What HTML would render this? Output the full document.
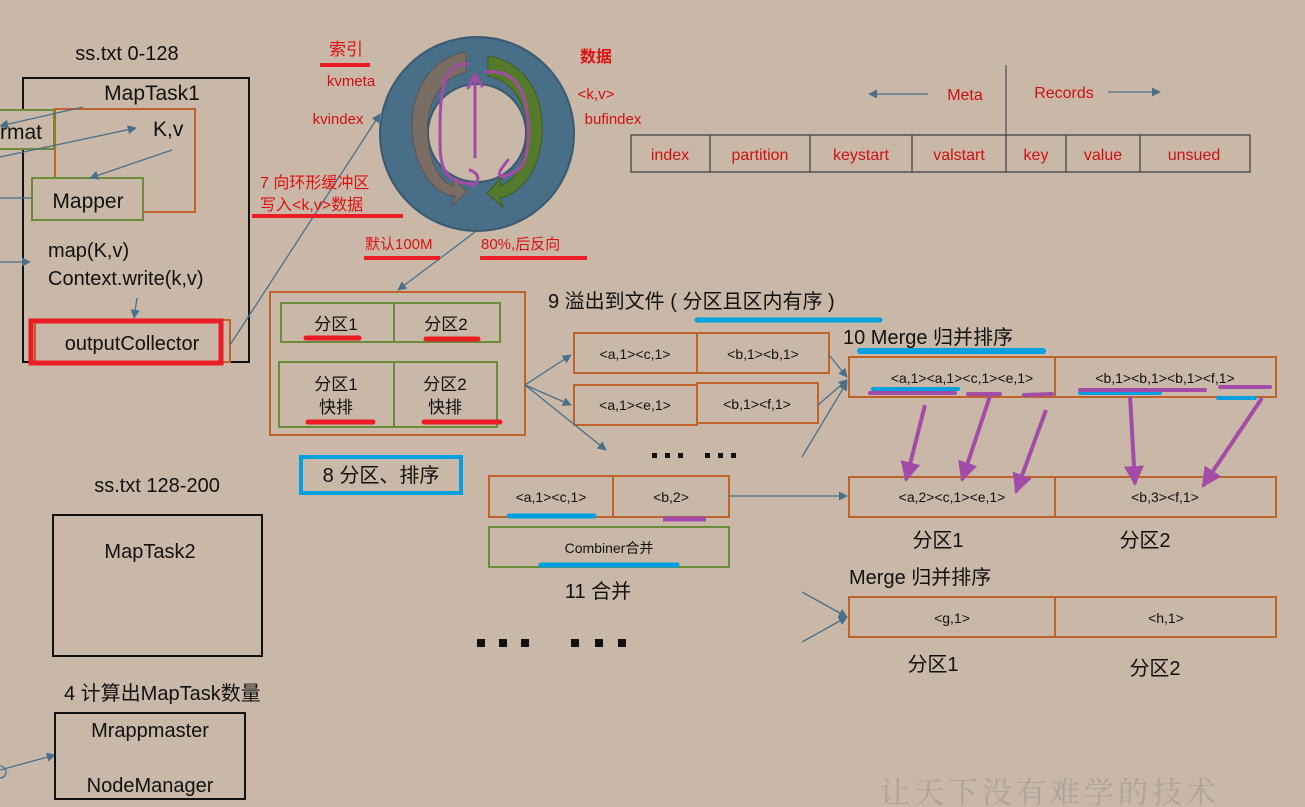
<!DOCTYPE html>
<html><head><meta charset="utf-8"><style>
html,body{margin:0;padding:0;background:#c9b8a7;}
svg{display:block;font-family:"Liberation Sans","Noto Sans CJK SC",sans-serif;}
</style></head><body>
<svg width="1305" height="807" viewBox="0 0 1305 807" xmlns="http://www.w3.org/2000/svg">
<defs>
<marker id="a" viewBox="0 0 10 10" refX="9" refY="5" markerWidth="7" markerHeight="7" orient="auto"><path d="M0,0L10,5L0,10z" fill="#4a6f8a"/></marker>
<marker id="p" viewBox="0 0 10 10" refX="9" refY="5" markerWidth="5" markerHeight="5" orient="auto"><path d="M0,0L10,5L0,10z" fill="#a24ca8"/></marker>
</defs>
<rect width="1305" height="807" fill="#c9b8a7"/>

<!-- MapTask1 -->
<text x="127" y="60" font-size="20" text-anchor="middle" fill="#111">ss.txt 0-128</text>
<rect x="23" y="78" width="226" height="284" fill="none" stroke="#111" stroke-width="2"/>
<text x="152" y="100" font-size="21" text-anchor="middle" fill="#111">MapTask1</text>
<rect x="55" y="109" width="140" height="103" fill="none" stroke="#c0622a" stroke-width="2"/>
<rect x="-10" y="110" width="64" height="39" fill="#c9b8a7" stroke="#6a8b3a" stroke-width="2"/>
<text x="0" y="139" font-size="21" fill="#111">rmat</text>
<text x="153" y="136" font-size="21" fill="#111">K,v</text>
<rect x="32" y="178" width="111" height="42" fill="#c9b8a7" stroke="#6a8b3a" stroke-width="2"/>
<text x="88" y="208" font-size="21" text-anchor="middle" fill="#111">Mapper</text>
<text x="48" y="257" font-size="20" fill="#111">map(K,v)</text>
<text x="48" y="285" font-size="20" fill="#111">Context.write(k,v)</text>
<rect x="35" y="320" width="195" height="42" fill="none" stroke="#c0622a" stroke-width="2"/>
<rect x="31" y="321" width="190" height="42" fill="none" stroke="#ec1c24" stroke-width="5"/>
<text x="132" y="350" font-size="20" text-anchor="middle" fill="#111">outputCollector</text>
<g stroke="#4a6f8a" stroke-width="1.3" fill="none" marker-end="url(#a)">
<line x1="83" y1="107" x2="0" y2="126"/>
<line x1="0" y1="157" x2="136" y2="128"/>
<line x1="172" y1="150" x2="90" y2="178"/>
<line x1="0" y1="262" x2="30" y2="262"/>
<line x1="137" y1="298" x2="134" y2="318"/>
<line x1="230" y1="345" x2="380" y2="114"/>
<line x1="475" y1="232" x2="398" y2="290"/>
<line x1="0" y1="770" x2="55" y2="755"/>
</g>
<line x1="0" y1="198" x2="32" y2="198" stroke="#4a6f8a" stroke-width="1.3"/>
<circle cx="0" cy="772" r="6" fill="none" stroke="#4a6f8a" stroke-width="1.3"/>

<!-- Ring buffer -->
<circle cx="477" cy="134" r="97" fill="#486e88" stroke="#3a5a72" stroke-width="2"/>
<circle cx="477" cy="133" r="49" fill="#c9b8a7" stroke="#3a5a72" stroke-width="2"/>
<path d="M466,52 C420,60 405,110 415,150 C422,180 440,195 455,196 L452,205 L467,192 L452,177 L454,186 C438,182 430,160 428,140 C424,105 440,78 466,72 Z" fill="#7a6e64" stroke="#5e544c"/>
<path d="M488,56 C535,64 548,110 540,150 C533,180 515,195 500,198 L503,207 L487,193 L502,177 L500,186 C515,182 525,160 526,140 C530,105 512,80 488,76 Z" fill="#557a2c" stroke="#3e5e20"/>
<g stroke="#a24ca8" stroke-width="3" fill="none" stroke-linecap="round">
<path d="M468,64 C440,62 440,100 440,140 C440,170 445,183 475,184"/>
<path d="M486,72 C520,68 530,100 528,140 C526,170 515,175 500,176 M508,160 C500,170 495,176 505,177"/>
<path d="M475,157 L475,78 M468,88 L475,75 L482,86"/>
<path d="M470,170 C482,175 478,182 473,186"/>
</g>
<text x="346" y="55" font-size="17" text-anchor="middle" fill="#e01010">索引</text>
<line x1="320" y1="65" x2="370" y2="65" stroke="#ec1c24" stroke-width="4"/>
<text x="351" y="86" font-size="15" text-anchor="middle" fill="#d01010">kvmeta</text>
<text x="338" y="124" font-size="15" text-anchor="middle" fill="#d01010">kvindex</text>
<text x="596" y="62" font-size="16" font-weight="bold" text-anchor="middle" fill="#e01010">数据</text>
<text x="596" y="99" font-size="15" text-anchor="middle" fill="#d01010">&lt;k,v&gt;</text>
<text x="613" y="124" font-size="15" text-anchor="middle" fill="#d01010">bufindex</text>
<text x="260" y="188" font-size="16" fill="#e01010">7 向环形缓冲区</text>
<text x="260" y="210" font-size="16" fill="#e01010">写入&lt;k,v&gt;数据</text>
<line x1="252" y1="216" x2="403" y2="216" stroke="#ec1c24" stroke-width="4"/>
<text x="365" y="249" font-size="15" fill="#e01010">默认100M</text>
<line x1="364" y1="258" x2="440" y2="258" stroke="#ec1c24" stroke-width="4"/>
<text x="481" y="249" font-size="15" fill="#e01010">80%,后反向</text>
<line x1="480" y1="258" x2="587" y2="258" stroke="#ec1c24" stroke-width="4"/>

<!-- table -->
<line x1="1006" y1="65" x2="1006" y2="135" stroke="#555" stroke-width="1.3"/>
<text x="965" y="100" font-size="16" text-anchor="middle" fill="#d01010">Meta</text>
<text x="1064" y="98" font-size="16" text-anchor="middle" fill="#d01010">Records</text>
<g stroke="#4a6f8a" stroke-width="1.3" marker-end="url(#a)">
<line x1="928" y1="94" x2="869" y2="94"/><line x1="1108" y1="92" x2="1160" y2="92"/>
</g>
<g fill="none" stroke="#444" stroke-width="1.3">
<rect x="631" y="135" width="619" height="37"/>
<line x1="710" y1="135" x2="710" y2="172"/><line x1="810" y1="135" x2="810" y2="172"/>
<line x1="912" y1="135" x2="912" y2="172"/><line x1="1006" y1="135" x2="1006" y2="172"/>
<line x1="1066" y1="135" x2="1066" y2="172"/><line x1="1140" y1="135" x2="1140" y2="172"/>
</g>
<g font-size="16" fill="#d01010" text-anchor="middle">
<text x="670" y="160">index</text><text x="760" y="160">partition</text><text x="861" y="160">keystart</text>
<text x="959" y="160">valstart</text><text x="1036" y="160">key</text><text x="1103" y="160">value</text><text x="1194" y="160">unsued</text>
</g>

<!-- partitions -->
<rect x="270" y="292" width="255" height="143" fill="none" stroke="#c0622a" stroke-width="2"/>
<g fill="none" stroke="#6a8b3a" stroke-width="2">
<rect x="281" y="303" width="113" height="39"/><rect x="394" y="303" width="106" height="39"/>
<rect x="279" y="362" width="115" height="65"/><rect x="394" y="362" width="103" height="65"/>
</g>
<g font-size="17" fill="#111" text-anchor="middle">
<text x="336" y="330">分区1</text><text x="446" y="330">分区2</text>
<text x="336" y="390">分区1</text><text x="445" y="390">分区2</text>
<text x="336" y="413">快排</text><text x="445" y="413">快排</text>
</g>
<g stroke="#ec1c24" stroke-width="5" stroke-linecap="round">
<line x1="306" y1="338" x2="359" y2="338"/><line x1="426" y1="339" x2="478" y2="339"/>
<line x1="308" y1="422" x2="373" y2="422"/><line x1="424" y1="422" x2="500" y2="422"/>
</g>
<rect x="301" y="457" width="160" height="36" fill="none" stroke="#00a0e0" stroke-width="4"/>
<text x="381" y="482" font-size="20" text-anchor="middle" fill="#111">8 分区、排序</text>

<!-- spill -->
<text x="548" y="308" font-size="20" fill="#111">9 溢出到文件 ( 分区且区内有序 )</text>
<line x1="697" y1="320" x2="880" y2="320" stroke="#00a0e0" stroke-width="5" stroke-linecap="round"/>
<g fill="none" stroke="#c0622a" stroke-width="2">
<rect x="574" y="333" width="123" height="40"/><rect x="697" y="333" width="132" height="40"/>
<rect x="574" y="385" width="123" height="40"/><rect x="697" y="383" width="121" height="40"/>
<rect x="489" y="476" width="124" height="41"/><rect x="613" y="476" width="116" height="41"/>
<rect x="849" y="357" width="206" height="40"/><rect x="1055" y="357" width="221" height="40"/>
<rect x="849" y="477" width="206" height="40"/><rect x="1055" y="477" width="221" height="40"/>
<rect x="849" y="597" width="206" height="40"/><rect x="1055" y="597" width="221" height="40"/>
</g>
<rect x="489" y="527" width="240" height="40" fill="none" stroke="#6a8b3a" stroke-width="2"/>
<g font-size="14" fill="#111" text-anchor="middle">
<text x="635" y="359">&lt;a,1&gt;&lt;c,1&gt;</text><text x="763" y="359">&lt;b,1&gt;&lt;b,1&gt;</text>
<text x="635" y="410">&lt;a,1&gt;&lt;e,1&gt;</text><text x="757" y="409">&lt;b,1&gt;&lt;f,1&gt;</text>
<text x="551" y="502">&lt;a,1&gt;&lt;c,1&gt;</text><text x="671" y="502">&lt;b,2&gt;</text>
<text x="609" y="553">Combiner合并</text>
<text x="962" y="383">&lt;a,1&gt;&lt;a,1&gt;&lt;c,1&gt;&lt;e,1&gt;</text><text x="1165" y="383">&lt;b,1&gt;&lt;b,1&gt;&lt;b,1&gt;&lt;f,1&gt;</text>
<text x="952" y="502">&lt;a,2&gt;&lt;c,1&gt;&lt;e,1&gt;</text><text x="1165" y="502">&lt;b,3&gt;&lt;f,1&gt;</text>
<text x="952" y="623">&lt;g,1&gt;</text><text x="1166" y="623">&lt;h,1&gt;</text>
</g>
<g fill="#111">
<rect x="652" y="453" width="5" height="5"/><rect x="665" y="453" width="5" height="5"/><rect x="678" y="453" width="5" height="5"/>
<rect x="705" y="453" width="5" height="5"/><rect x="718" y="453" width="5" height="5"/><rect x="731" y="453" width="5" height="5"/>
<rect x="477" y="639" width="8" height="8"/><rect x="499" y="639" width="8" height="8"/><rect x="521" y="639" width="8" height="8"/>
<rect x="571" y="639" width="8" height="8"/><rect x="595" y="639" width="8" height="8"/><rect x="618" y="639" width="8" height="8"/>
</g>
<text x="598" y="598" font-size="20" text-anchor="middle" fill="#111">11 合并</text>
<line x1="509" y1="516" x2="594" y2="516" stroke="#00a0e0" stroke-width="5" stroke-linecap="round"/>
<line x1="663" y1="519" x2="706" y2="519" stroke="#a24ca8" stroke-width="5"/>
<line x1="541" y1="565" x2="677" y2="565" stroke="#00a0e0" stroke-width="5" stroke-linecap="round"/>

<g stroke="#4a6f8a" stroke-width="1.3" fill="none" marker-end="url(#a)">
<line x1="525" y1="385" x2="571" y2="355"/>
<line x1="525" y1="385" x2="571" y2="405"/>
<line x1="525" y1="385" x2="606" y2="450"/>
<line x1="829" y1="355" x2="847" y2="377"/>
<line x1="818" y1="405" x2="847" y2="380"/>
<line x1="802" y1="457" x2="847" y2="382"/>
<line x1="729" y1="496" x2="847" y2="496"/>
<line x1="802" y1="592" x2="847" y2="617"/>
<line x1="802" y1="642" x2="847" y2="617"/>
</g>
<text x="843" y="344" font-size="20" fill="#111">10 Merge 归并排序</text>
<line x1="860" y1="351" x2="1043" y2="351" stroke="#00a0e0" stroke-width="6" stroke-linecap="round"/>
<g stroke-width="4" stroke-linecap="round">
<line x1="873" y1="389" x2="958" y2="389" stroke="#00a0e0"/>
<line x1="870" y1="393" x2="955" y2="393" stroke="#a24ca8"/>
<line x1="968" y1="394" x2="1000" y2="394" stroke="#a24ca8"/>
<line x1="1024" y1="395" x2="1052" y2="394" stroke="#a24ca8"/>
<line x1="1080" y1="393" x2="1160" y2="393" stroke="#00a0e0"/>
<line x1="1080" y1="390" x2="1205" y2="390" stroke="#a24ca8"/>
<line x1="1220" y1="387" x2="1270" y2="387" stroke="#a24ca8"/>
<line x1="1218" y1="398" x2="1255" y2="398" stroke="#00a0e0"/>
</g>
<g stroke="#a24ca8" stroke-width="4" marker-end="url(#p)">
<line x1="925" y1="405" x2="906" y2="480"/>
<line x1="990" y1="396" x2="962" y2="480"/>
<line x1="1046" y1="410" x2="1016" y2="492"/>
<line x1="1130" y1="396" x2="1135" y2="484"/>
<line x1="1262" y1="398" x2="1203" y2="486"/>
</g>
<g font-size="20" fill="#111" text-anchor="middle">
<text x="938" y="547">分区1</text><text x="1145" y="547">分区2</text>
<text x="933" y="671">分区1</text><text x="1155" y="675">分区2</text>
</g>
<text x="849" y="584" font-size="20" fill="#111">Merge 归并排序</text>

<!-- MapTask2 -->
<text x="157" y="492" font-size="20" text-anchor="middle" fill="#111">ss.txt 128-200</text>
<rect x="53" y="515" width="209" height="141" fill="none" stroke="#111" stroke-width="2"/>
<text x="150" y="558" font-size="20" text-anchor="middle" fill="#111">MapTask2</text>
<text x="64" y="700" font-size="20" fill="#111">4 计算出MapTask数量</text>
<rect x="55" y="713" width="190" height="86" fill="none" stroke="#111" stroke-width="2"/>
<text x="150" y="737" font-size="20" text-anchor="middle" fill="#111">Mrappmaster</text>
<text x="150" y="792" font-size="20" text-anchor="middle" fill="#111">NodeManager</text>
<text x="880" y="803" font-size="30" fill="#b0a298" font-family="Noto Serif CJK SC, serif" letter-spacing="4">让天下没有难学的技术</text>
</svg>
</body></html>
